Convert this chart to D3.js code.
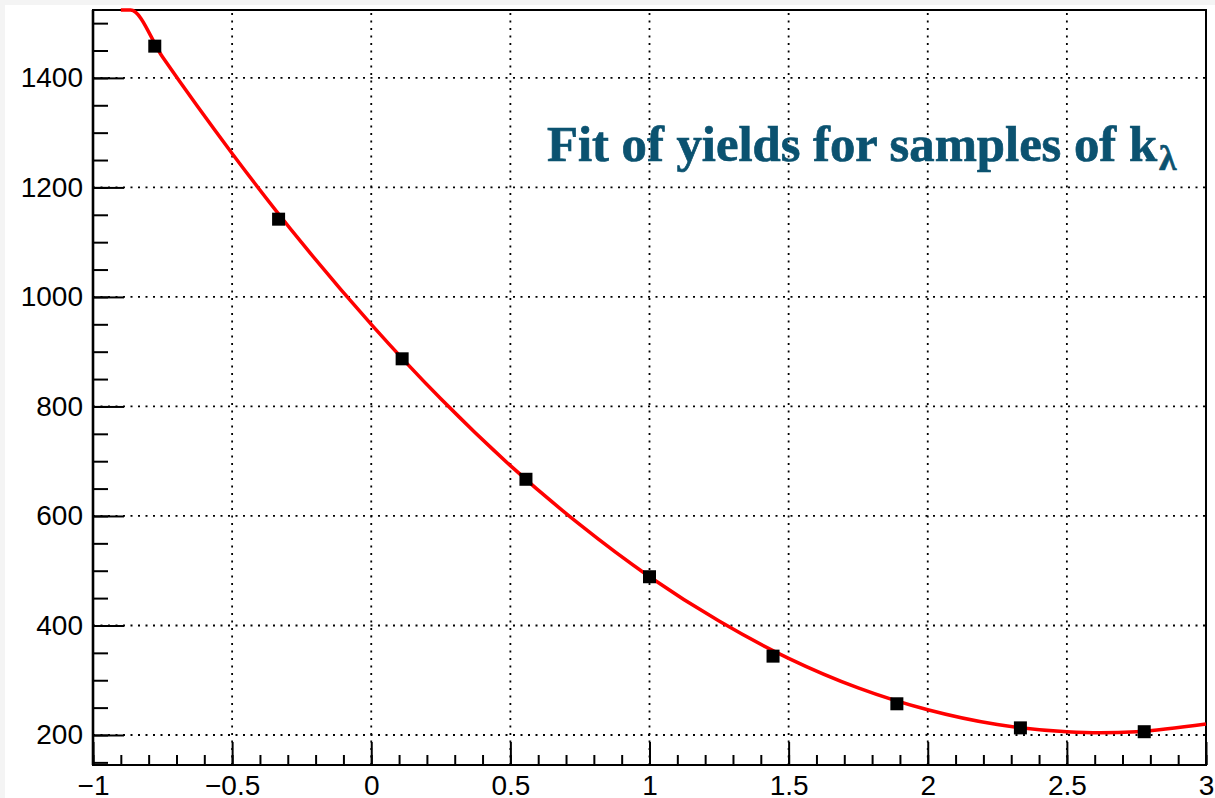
<!DOCTYPE html>
<html>
<head>
<meta charset="utf-8">
<script src="https://cdn.jsdelivr.net/npm/d3@7"></script>
<style>
  html, body { margin: 0; padding: 0; background: #f4f4f4; }
  svg { display: block; }
</style>
</head>
<body>
<svg id="chart" width="1215" height="798"></svg>
<script>
// measured points (bin centres of k_lambda samples) and yields
const sampleX = [-0.778, -0.333, 0.111, 0.556, 1.0, 1.444, 1.889, 2.333, 2.778];
const sampleYield = [1458, 1142, 887, 667, 489, 344, 257, 213, 206];

// fitted curve
const fitX = [-0.9, -0.75, -0.5, -0.25, 0, 0.25, 0.5, 0.75, 1.0, 1.25, 1.5, 1.75, 2.0, 2.25, 2.5, 2.62, 2.75, 3.0];
const fitY = [1550, 1438, 1262, 1099, 950, 814, 692, 584, 489, 408, 340, 286, 246, 219, 206, 204, 206, 220];

const xMajor = [-1, -0.5, 0, 0.5, 1, 1.5, 2, 2.5, 3];
const yMajor = [200, 400, 600, 800, 1000, 1200, 1400];
const xMinor = d3.range(-10, 31).map(d => d / 10);
const yMinor = d3.range(150, 1551, 50);

const titleText = "Fit of yields for samples of k";
const titleSub = "\u03bb";

class FitChart {
  constructor() {
    this.svg = d3.select("#chart");
    this.left = 93;
    this.right = 1206;
    this.top = 10;
    this.bottom = 765;

    this.x = d3.scaleLinear().domain([-1, 3]).range([this.left, this.right]);
    this.y = d3.scaleLinear().domain([145.2, 1524]).range([this.bottom, this.top]);

    this.drawBackground();
    this.drawGrid();
    this.drawAxes();
    this.drawFit();
    this.drawPoints();
    this.drawTitle();
  }

  drawBackground() {
    this.svg.append("rect")
      .attr("x", 5).attr("y", 5)
      .attr("width", 1210).attr("height", 793)
      .attr("fill", "#fff");
  }

  drawGrid() {
    const { svg, x, y } = this;
    const g = svg.append("g")
      .attr("stroke", "#000")
      .attr("stroke-width", 1.8)
      .attr("stroke-dasharray", "2,5.5");

    g.selectAll(".gx").data(xMajor).join("line")
      .attr("x1", d => x(d)).attr("x2", d => x(d))
      .attr("y1", this.bottom).attr("y2", this.top);

    g.selectAll(".gy").data(yMajor).join("line")
      .attr("x1", this.left).attr("x2", this.right)
      .attr("y1", d => y(d)).attr("y2", d => y(d));
  }

  drawAxes() {
    const { svg, x, y } = this;
    const font = "'Liberation Sans', Arial, Helvetica, sans-serif";

    const yAxis = svg.append("g")
      .attr("transform", `translate(${this.left},0)`)
      .call(d3.axisLeft(y).tickValues(yMajor).tickSizeInner(-31).tickSizeOuter(0)
        .tickPadding(10).tickFormat(d3.format("")));
    const yMin = svg.append("g")
      .attr("transform", `translate(${this.left},0)`)
      .call(d3.axisLeft(y).tickValues(yMinor.filter(v => v < 1524)).tickSizeInner(-15)
        .tickSizeOuter(0).tickFormat(""));

    const xAxis = svg.append("g")
      .attr("transform", `translate(0,${this.bottom})`)
      .call(d3.axisBottom(x).tickValues(xMajor).tickSizeInner(-23).tickSizeOuter(0)
        .tickPadding(10).tickFormat(d3.format("")));
    const xMin = svg.append("g")
      .attr("transform", `translate(0,${this.bottom})`)
      .call(d3.axisBottom(x).tickValues(xMinor).tickSizeInner(-10)
        .tickSizeOuter(0).tickFormat(""));

    [yAxis, yMin, xAxis, xMin].forEach(a => {
      a.select(".domain").remove();
      a.selectAll(".tick line").attr("stroke", "#000").attr("stroke-width", 2);
      a.selectAll(".tick text")
        .attr("fill", "#000")
        .style("font-family", font)
        .style("font-size", "28px");
    });

    // frame
    svg.append("rect")
      .attr("x", this.left).attr("y", this.top)
      .attr("width", this.right - this.left)
      .attr("height", this.bottom - this.top)
      .attr("fill", "none")
      .attr("stroke", "#000")
      .attr("stroke-width", 2);
    svg.append("line")
      .attr("x1", this.left).attr("x2", this.left)
      .attr("y1", this.top).attr("y2", this.bottom)
      .attr("stroke", "#000").attr("stroke-width", 2.6);
  }

  drawFit() {
    const { x, y } = this;
    const yMax = y.domain()[1];
    const pts = fitX.map((d, i) => [d, fitY[i]]);
    const line = d3.line()
      .x(d => x(d[0]))
      .y(d => y(Math.min(d[1], yMax)))
      .curve(d3.curveMonotoneX);

    // top part is clipped onto the frame like the original
    const clipped = [];
    for (let i = 0; i < pts.length; i++) {
      if (i > 0 && pts[i - 1][1] > yMax && pts[i][1] <= yMax) {
        const [x0, y0] = pts[i - 1];
        const [x1, y1] = pts[i];
        const t = (y0 - yMax) / (y0 - y1);
        clipped.push([x0 + t * (x1 - x0), yMax]);
      }
      clipped.push(pts[i]);
    }

    this.svg.append("path")
      .datum(clipped)
      .attr("d", line)
      .attr("fill", "none")
      .attr("stroke", "#ff0000")
      .attr("stroke-width", 3.5);
  }

  drawPoints() {
    const { x, y } = this;
    const size = 13;
    this.svg.append("g")
      .selectAll("rect")
      .data(sampleX.map((d, i) => [d, sampleYield[i]]))
      .join("rect")
      .attr("x", d => x(d[0]) - size / 2)
      .attr("y", d => y(d[1]) - size / 2)
      .attr("width", size)
      .attr("height", size)
      .attr("fill", "#000");
  }

  drawTitle() {
    const t = this.svg.append("text")
      .attr("x", 547)
      .attr("y", 161)
      .attr("fill", "#0b5270")
      .attr("stroke", "#0b5270")
      .attr("stroke-width", 0.7)
      .style("font-family", "'Liberation Serif', 'Times New Roman', serif")
      .style("font-weight", "bold")
      .style("font-size", "40px");
    const main = t.append("tspan").text(titleText);

    // fit the main part into the width seen in the picture
    const w = main.node().getComputedTextLength();
    const target = 610;
    const fs = 40 * target / w;
    t.style("font-size", fs.toFixed(1) + "px");

    t.append("tspan")
      .attr("dx", 2)
      .attr("dy", 9)
      .style("font-size", (fs * 0.7).toFixed(1) + "px")
      .text(titleSub);
  }
}

const chart = new FitChart();
</script>
</body>
</html>
